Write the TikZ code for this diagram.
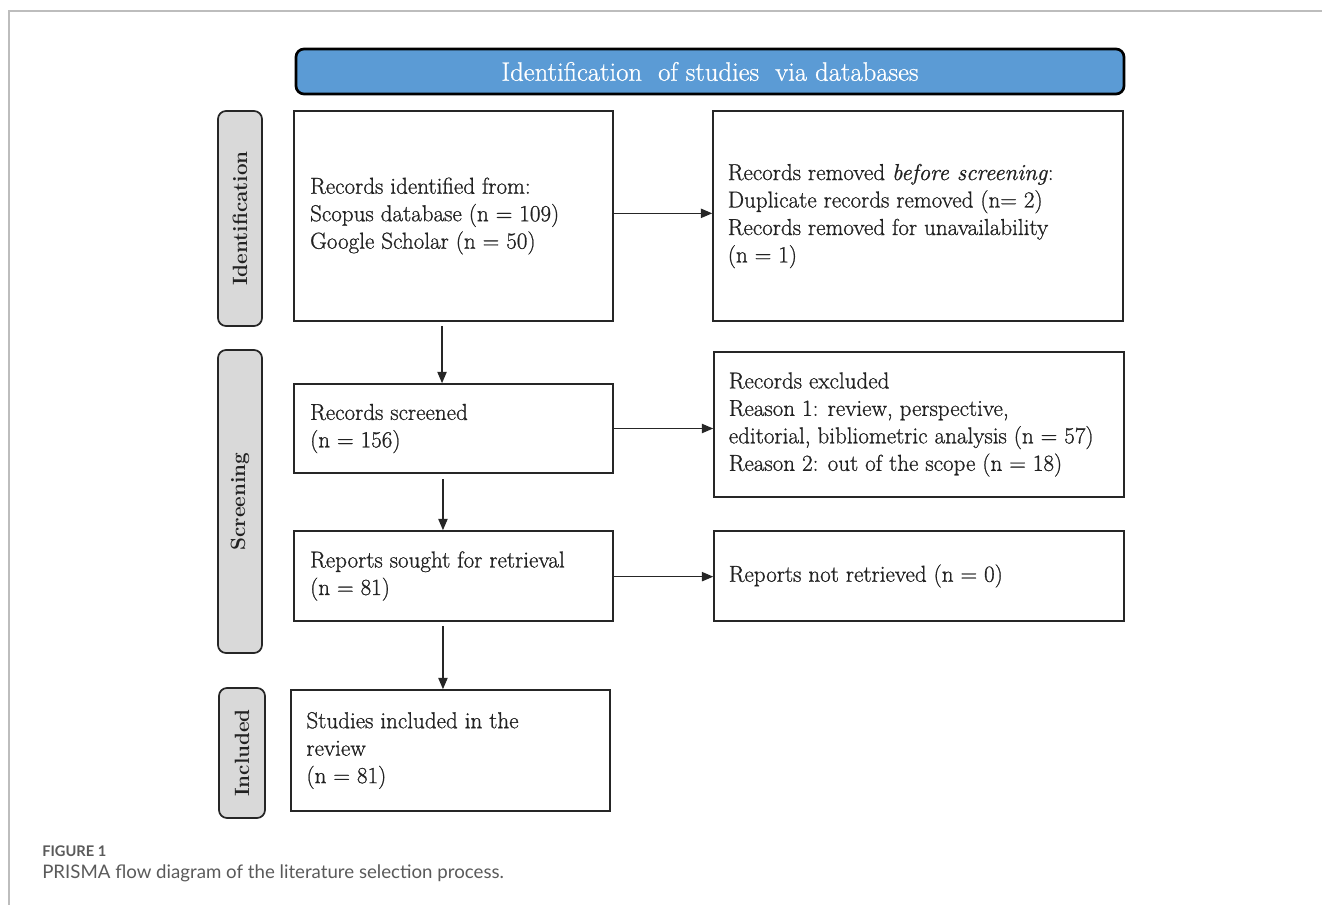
\documentclass[tikz,border=0pt]{standalone}
\usepackage{fontspec}
\newfontfamily\capfont{Lato}
\newfontfamily\bodyfont{Latin Modern Roman}[FakeBold=0.9]
\newfontfamily\hdrfont{Latin Modern Roman}[FakeBold=0.8]
\usetikzlibrary{arrows.meta}
\definecolor{hdrblue}{HTML}{5B9BD5}
\definecolor{sidegray}{HTML}{D9D9D9}
\definecolor{framegray}{HTML}{BDBDBD}
\definecolor{captgray}{HTML}{5A5A5A}
\definecolor{txtdark}{HTML}{222222}
\begin{document}
\begin{tikzpicture}[x=0.75pt,y=-0.75pt,
  flowbox/.style={draw=black!85, line width=1.2pt, inner sep=0pt},
  boxtext/.style={anchor=west, align=left, inner sep=0pt, text=txtdark,
    font=\bodyfont\fontsize{17.3}{20.6}\selectfont},
  sidelabel/.style={draw=black!85, line width=1.3pt, fill=sidegray, rounded corners=6pt,
    inner sep=0pt, minimum width=33pt},
  sidetext/.style={rotate=90, font=\fontsize{15.5}{18}\selectfont\bfseries, text=txtdark},
  arr/.style={line width=0.9pt, draw=black!85, -{Triangle[length=8.5pt,width=7pt]}}
]
\useasboundingbox (0,0) rectangle (1322,905);
% frame
\draw[framegray, line width=1.2pt] (1322,11) -- (9,11) -- (9,905);

% header
\node[draw=black, line width=2pt, fill=hdrblue, rounded corners=6pt,
  minimum width=621pt, minimum height=33.75pt, inner sep=0pt,
  text=white, font=\hdrfont\fontsize{20}{24}\selectfont] (hdr) at (710,71.5)
  {Identification\ \ of studies\ \ via databases};

% side labels
\node[sidelabel, minimum height=161.25pt] (sid) at (240,218.5) {};
\node[sidetext] (sidt) at (sid.center) {Identification};
\node[sidelabel, minimum height=227.25pt] (ssc) at (240,501.5) {};
\node[sidetext] (ssct) at (ssc.center) {Screening};
\node[sidelabel, minimum width=34.5pt, minimum height=97.5pt] (sin) at (242,753) {};
\node[sidetext] (sint) at (sin.center) {Included};

% boxes
\node[flowbox, minimum width=239.25pt, minimum height=157.5pt] (b1) at (453.5,216) {};
\node[boxtext] (t1) at ([xshift=12.5pt]b1.west)
  {Records identified from:\\Scopus database (n = 109)\\Google Scholar (n = 50)};

\node[flowbox, minimum width=307.5pt, minimum height=157.5pt] (b2) at (918,216) {};
\node[boxtext] (t2) at ([xshift=11.5pt]b2.west)
  {Records removed \textit{before screening}:\\Duplicate records removed (n= 2)\\Records removed for unavailability\\(n = 1)};

\node[flowbox, minimum width=239.25pt, minimum height=66.75pt] (b3) at (453.5,428.5) {};
\node[boxtext] (t3) at ([xshift=12.5pt]b3.west)
  {Records screened\\(n = 156)};

\node[flowbox, minimum width=307.5pt, minimum height=108.75pt] (b4) at (919,424.5) {};
\node[boxtext] (t4) at ([xshift=11.5pt]b4.west)
  {Records excluded\\Reason 1: review, perspective,\\editorial, bibliometric analysis (n = 57)\\Reason 2: out of the scope (n = 18)};

\node[flowbox, minimum width=239.25pt, minimum height=67.5pt] (b5) at (453.5,576) {};
\node[boxtext] (t5) at ([xshift=12.5pt]b5.west)
  {Reports sought for retrieval\\(n = 81)};

\node[flowbox, minimum width=307.5pt, minimum height=67.5pt] (b6) at (919,576) {};
\node[boxtext] (t6) at ([xshift=11.5pt]b6.west)
  {Reports not retrieved (n = 0)};

\node[flowbox, minimum width=239.25pt, minimum height=90.75pt] (b7) at (450.5,750.5) {};
\node[boxtext] (t7) at ([xshift=12pt]b7.west)
  {Studies included in the\\review\\(n = 81)};

% arrows
\draw[arr, shorten <=3pt] ([xshift=-8.6pt]b1.south) coordinate (s1) -- (s1 |- b3.north);
\draw[arr, shorten <=4pt] ([xshift=-7.9pt]b3.south) coordinate (s3) -- (s3 |- b5.north);
\draw[arr, shorten <=3pt] ([xshift=-7.9pt]b5.south) coordinate (s5) -- (s5 |- b7.north);
\draw[arr] ([yshift=2pt]b1.east) -- ([yshift=2pt]b1.east -| b2.west);
\draw[arr] (b3.east) -- (b3.east -| b4.west);
\draw[arr] ([yshift=-0.5pt]b5.east) -- ([yshift=-0.5pt]b5.east -| b6.west);

% caption
\node[anchor=west, inner sep=0pt, text=captgray, font=\capfont\fontsize{11}{13}\selectfont\bfseries] (cap1) at (42,851) {FIGURE 1};
\node[anchor=west, inner sep=0pt, text=captgray, font=\capfont\fontsize{14}{17}\selectfont] (cap2) at (42,873) {PRISMA flow diagram of the literature selection process.};
\end{tikzpicture}
\end{document}
